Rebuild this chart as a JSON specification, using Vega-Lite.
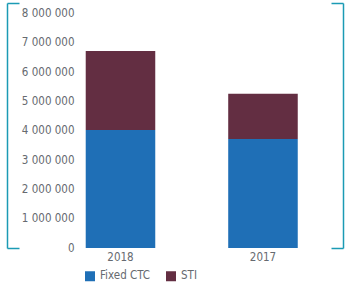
{
  "$schema": "https://vega.github.io/schema/vega-lite/v6.json",
  "autosize": {"type": "none"},
  "padding": {"left": 7, "top": 3, "right": 5, "bottom": 39},
  "width": 336,
  "height": 245,
  "background": "white",
  "config": {
    "view": {"stroke": null},
    "font": "DejaVu Sans Condensed, Roboto",
    "axis": {"labelFont": "DejaVu Sans Condensed, Roboto", "labelFontSize": 11.5, "labelColor": "#666a70", "grid": false, "title": null},
    "legend": {"labelFont": "DejaVu Sans Condensed, Roboto", "labelFontSize": 11.5, "labelColor": "#666a70"}
  },
  "data": {
    "values": [
      {"year": "2018", "component": "Fixed CTC", "value": 4030000},
      {"year": "2018", "component": "STI", "value": 2690000},
      {"year": "2017", "component": "Fixed CTC", "value": 3720000},
      {"year": "2017", "component": "STI", "value": 1540000}
    ]
  },
  "resolve": {"axis": {"y": "independent"}},
  "layer": [
    {
      "mark": {"type": "bar"},
      "encoding": {
        "x": {
          "field": "year", "type": "nominal", "sort": ["2018", "2017"],
          "scale": {"paddingInner": 0.512, "paddingOuter": 0.435, "align": 0.635},
          "axis": {"orient": "bottom", "domain": false, "ticks": false, "labelPadding": 3, "labelAngle": 0}
        },
        "y": {
          "aggregate": "sum", "field": "value", "type": "quantitative", "stack": "zero",
          "scale": {"domain": [0, 8360000], "nice": false, "zero": true},
          "axis": {
            "orient": "left",
            "values": [0, 1000000, 2000000, 3000000, 4000000, 5000000, 6000000, 7000000, 8000000, 8360000],
            "labelExpr": "datum.value > 8100000 ? '' : replace(format(datum.value, ',d'), /,/g, ' ')",
            "domainColor": "#1b9bb4", "domainWidth": 1.5,
            "tickColor": "#1b9bb4", "tickWidth": 1.5, "tickSize": -12,
            "tickOpacity": {"expr": "datum.value == 0 || datum.value > 8100000 ? 1 : 0"},
            "labelPadding": -55,
            "labelAlign": "right"
          }
        },
        "color": {
          "field": "component", "type": "nominal",
          "scale": {"domain": ["Fixed CTC", "STI"], "range": ["#1f6fb6", "#632e42"]},
          "legend": {"title": null, "orient": "none", "legendX": 77, "legendY": 267, "direction": "horizontal", "symbolType": "square", "symbolSize": 100, "columnPadding": 14}
        },
        "order": {"field": "component", "sort": "ascending"}
      }
    },
    {
      "mark": {"type": "point", "opacity": 0},
      "encoding": {
        "y": {
          "field": "value", "type": "quantitative",
          "axis": {
            "orient": "right",
            "values": [0, 8360000],
            "labels": false,
            "domainColor": "#1b9bb4", "domainWidth": 1.5,
            "tickColor": "#1b9bb4", "tickWidth": 1.5, "tickSize": -12
          }
        }
      }
    }
  ]
}
